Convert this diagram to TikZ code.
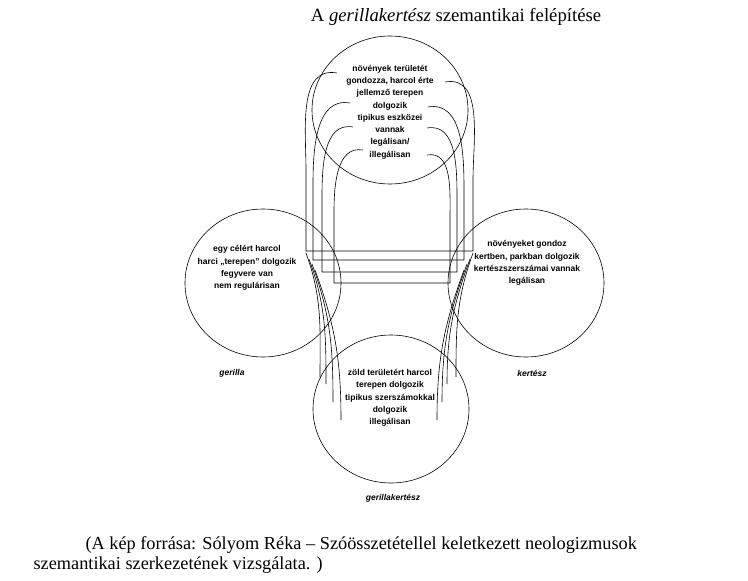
\documentclass[tikz,border=0pt]{standalone}
\usepackage{fontspec}
\setmainfont{Liberation Serif}
\newfontfamily\diagfont{Liberation Sans}
\usetikzlibrary{shapes.geometric, positioning}

\begin{document}
\begin{tikzpicture}[x=1pt, y=1pt,
    field/.style={ellipse, draw=black, line width=0.6pt, minimum width=156pt, minimum height=148pt, inner sep=0pt},
    sense/.style={align=center, font=\diagfont\bfseries\fontsize{8.5}{12.3}\selectfont, inner sep=0pt},
    word/.style={font=\diagfont\bfseries\itshape\fontsize{8.5}{10}\selectfont, inner sep=0pt},
    strand/.style={draw=black, line width=0.6pt}
]
    \useasboundingbox (0,0) rectangle (748,-581);
    \node[font=\fontsize{18.7}{22}\selectfont] (title) at (456,-17) {A \textit{gerillakertész} szemantikai felépítése};

    \node[field] (compound) at (390,-110) {};
    \node[field] (gerilla) at (263,-283) {};
    \node[field] (kertesz) at (526,-283) {};
    \node[field] (result) at (391,-409) {};

    \node[sense] (topsense) at (390,-112) {növények területét\\gondozza, harcol érte\\jellemző terepen\\dolgozik\\tipikus eszközei\\vannak\\legálisan/\\illegálisan};
    \node[sense] (leftsense) at (247,-268) {egy célért harcol\\harci „terepen” dolgozik\\fegyvere van\\nem regulárisan};
    \node[sense] (rightsense) at (527,-263) {növényeket gondoz\\kertben, parkban dolgozik\\kertészszerszámai vannak\\legálisan};
    \node[sense] (bottomsense) at (390,-398) {zöld területért harcol\\terepen dolgozik\\tipikus szerszámokkal\\dolgozik\\illegálisan};

    \node[word] (gerillaname) at (232,-373) {gerilla};
    \node[word] (kerteszname) at (532,-373) {kertész};
    \node[word] (resultname) at (393,-498) {gerillakertész};

    % arches from the top circle, closed by the cross lines
    \draw[strand] (337,-73) to[out=170,in=90] (306,-170) -- (306,-251) -- (473,-251) -- (473,-180) to[out=90,in=10] (445,-82);
    \draw[strand] (350,-103) to[out=170,in=90] (313,-185) -- (313,-260) -- (464,-260) -- (464,-190) to[out=90,in=10] (428,-107);
    \draw[strand] (353,-127) to[out=170,in=90] (322,-198) -- (322,-272) -- (457,-272) -- (457,-202) to[out=90,in=10] (427,-128);
    \draw[strand] (363,-150) to[out=170,in=90] (334,-212) -- (334,-283) -- (450,-283) -- (450,-218) to[out=90,in=10] (427,-155);

    % legs down to the bottom circle
    \draw[strand] (306,-253) to[out=-70,in=90] (320,-377);
    \draw[strand] (309,-259) to[out=-70,in=90] (326,-384);
    \draw[strand] (312,-264) to[out=-70,in=90] (333,-402);
    \draw[strand] (315,-270) to[out=-70,in=90] (341,-420);
    \draw[strand] (473,-253) to[out=-110,in=90] (456,-377);
    \draw[strand] (470,-259) to[out=-110,in=90] (447,-384);
    \draw[strand] (467,-264) to[out=-110,in=90] (442,-402);
    \draw[strand] (464,-270) to[out=-110,in=90] (437,-420);

    \node[anchor=north west, align=left, font=\fontsize{18.3}{20.5}\selectfont] (source) at (30,-533) {\hspace{52pt}(A kép forrása: Sólyom Réka – Szóösszetétellel keletkezett neologizmusok\\szemantikai szerkezetének vizsgálata. )};
\end{tikzpicture}
\end{document}
